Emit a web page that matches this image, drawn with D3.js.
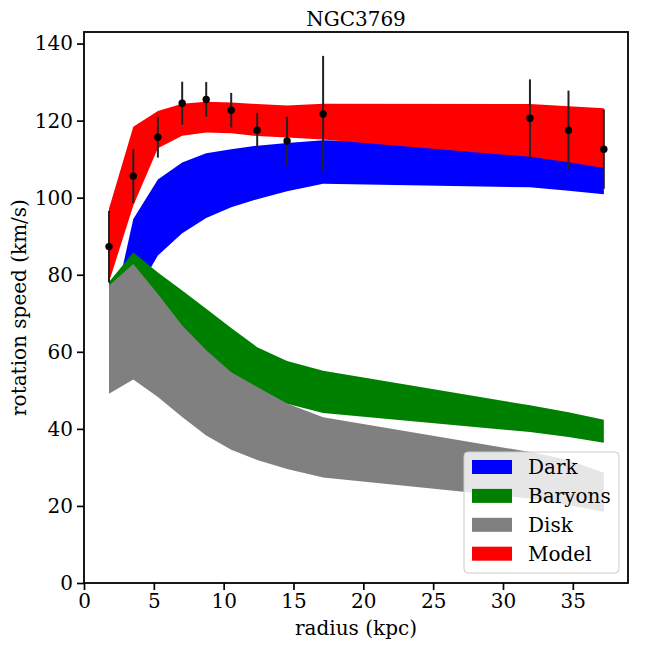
<!DOCTYPE html>
<html>
<head>
<meta charset="utf-8">
<script src="https://cdn.jsdelivr.net/npm/d3@7"></script>
<style>
  body { margin: 0; background: #fff; }
  svg text { font-family: "DejaVu Serif", serif; }
</style>
</head>
<body>
<svg id="rc" width="648" height="648"></svg>
<script>
// radius of each sample (kpc)
var radius = [1.79, 3.53, 5.29, 7.03, 8.75, 10.54, 12.4, 14.54, 17.12, 31.93, 34.69, 37.22];

// observed rotation speed and its error (km/s)
var vObs = [87.3, 105.6, 115.7, 124.5, 125.5, 122.7, 117.5, 114.7, 121.7, 120.6, 117.5, 112.6];
var vErr = [9.3, 7.0, 5.3, 5.6, 4.5, 4.5, 4.5, 6.3, 15.1, 10.1, 10.3, 10.3];

// model bands, lower / upper edge
var darkLo = [51, 74, 85, 90.8, 94.7, 97.5, 99.6, 101.7, 103.6, 102.7, 101.8, 100.9];
var darkHi = [66, 94.5, 104.7, 109.1, 111.5, 112.6, 113.5, 114.2, 114.9, 113.5, 112.5, 111.5];
var baryLo = [52, 56, 53, 50, 48, 47, 46.5, 46.5, 44.1, 39.2, 37.9, 36.4];
var baryHi = [78.1, 85.8, 80.6, 75.9, 71.2, 66.2, 61.2, 57.6, 55.1, 46.1, 44.3, 42.4];
var diskLo = [49.1, 52.8, 48.3, 43.1, 38.3, 34.6, 31.9, 29.6, 27.4, 21.9, 20.2, 18.5];
var diskHi = [77.2, 82.8, 75.0, 66.8, 60.4, 54.7, 50.9, 46.6, 43.0, 34.0, 31.9, 28.6];
var modelLo = [78.1, 98.0, 112.8, 116.1, 116.9, 116.7, 116.0, 115.6, 115.1, 110.6, 109.2, 107.7];
var modelHi = [97.1, 118.4, 122.5, 124.4, 124.9, 124.7, 124.3, 123.9, 124.4, 124.3, 123.7, 123.2];

var seriesNames = ["Dark", "Baryons", "Disk", "Model"];
var xTicks = [0, 5, 10, 15, 20, 25, 30, 35];
var yTicks = [0, 20, 40, 60, 80, 100, 120, 140];

var svg = d3.select("#rc"),
  margin = { left: 84, top: 32, right: 20, bottom: 65 },
  width = 648 - margin.left - margin.right,
  height = 648 - margin.top - margin.bottom,
  fs = "20px";

var xScale = d3.scaleLinear().domain([0, 38.95]).range([0, width]),
  yScale = d3.scaleLinear().domain([0, 143]).range([height, 0]);

var g = svg.append("g").attr("transform", "translate(" + margin.left + "," + margin.top + ")");

var bands = [
  { name: "Dark", lo: darkLo, hi: darkHi, color: "#0000ff" },
  { name: "Baryons", lo: baryLo, hi: baryHi, color: "#008000" },
  { name: "Disk", lo: diskLo, hi: diskHi, color: "#808080" },
  { name: "Model", lo: modelLo, hi: modelHi, color: "#ff0000" },
];

var area = d3
  .area()
  .x((d) => xScale(d.r))
  .y0((d) => yScale(d.lo))
  .y1((d) => yScale(d.hi));

bands.forEach(function (b) {
  var pts = radius.map(function (r, i) {
    return { r: r, lo: b.lo[i], hi: b.hi[i] };
  });
  g.append("path").datum(pts).attr("d", area).style("fill", b.color);
});

// error bars + points
var obs = radius.map(function (r, i) {
  return { r: r, v: vObs[i], e: vErr[i] };
});

g.selectAll(".eb")
  .data(obs)
  .enter()
  .append("line")
  .attr("x1", (d) => xScale(d.r))
  .attr("x2", (d) => xScale(d.r))
  .attr("y1", (d) => yScale(d.v - d.e))
  .attr("y2", (d) => yScale(d.v + d.e))
  .style("stroke", "#222")
  .style("stroke-width", 2);

g.selectAll(".pt")
  .data(obs)
  .enter()
  .append("circle")
  .attr("cx", (d) => xScale(d.r))
  .attr("cy", (d) => yScale(d.v))
  .attr("r", 3.7)
  .style("fill", "#000");

// axes
var xAxis = g
  .append("g")
  .attr("transform", "translate(0," + height + ")")
  .call(d3.axisBottom(xScale).tickValues(xTicks).tickSize(7).tickPadding(4).tickSizeOuter(0));

var yAxis = g
  .append("g")
  .call(d3.axisLeft(yScale).tickValues(yTicks).tickSize(7).tickPadding(4).tickSizeOuter(0));

[xAxis, yAxis].forEach(function (a) {
  a.select(".domain").remove();
  a.selectAll("line").style("stroke", "#000").style("stroke-width", 1.7);
  a.selectAll("text").style("font-size", fs).style("fill", "#000").style("font-family", "DejaVu Serif");
});

// frame
g.append("rect")
  .attr("width", width)
  .attr("height", height)
  .style("fill", "none")
  .style("stroke", "#000")
  .style("stroke-width", 1.8);

svg
  .append("text")
  .attr("x", margin.left + width / 2)
  .attr("y", 26)
  .attr("text-anchor", "middle")
  .style("font-size", fs)
  .text("NGC3769");

svg
  .append("text")
  .attr("x", margin.left + width / 2)
  .attr("y", 635)
  .attr("text-anchor", "middle")
  .style("font-size", fs)
  .text("radius (kpc)");

svg
  .append("text")
  .attr("text-anchor", "middle")
  .attr("transform", "translate(26," + (margin.top + height / 2) + ")rotate(-90)")
  .style("font-size", fs)
  .text("rotation speed (km/s)");

// legend
var lg = svg.append("g").attr("transform", "translate(464,452)");
lg.append("rect")
  .attr("width", 155)
  .attr("height", 121)
  .attr("rx", 4)
  .style("fill", "#fff")
  .style("fill-opacity", 0.8)
  .style("stroke", "#ccc")
  .style("stroke-width", 1);

var rows = lg
  .selectAll(".row")
  .data(bands)
  .enter()
  .append("g")
  .attr("transform", (d, i) => "translate(0," + (15 + i * 28.9) + ")");

rows.append("rect")
  .attr("x", 8)
  .attr("y", -7)
  .attr("width", 40)
  .attr("height", 14)
  .style("fill", (d) => d.color);

rows.append("text")
  .attr("x", 64)
  .attr("y", 7)
  .style("font-size", fs)
  .text((d, i) => seriesNames[i]);
</script>
</body>
</html>
